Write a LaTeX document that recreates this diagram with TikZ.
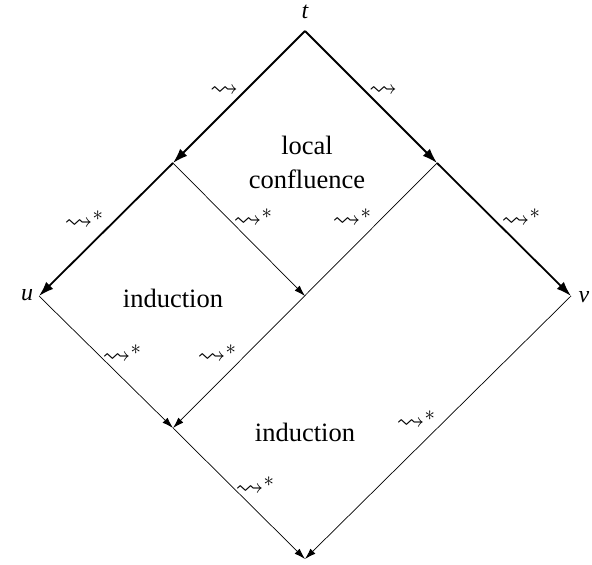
\documentclass[tikz,border=0pt]{standalone}
\usepackage{amssymb}
\usepackage{fontspec}
\setmainfont{Liberation Serif}
\usetikzlibrary{arrows.meta}
\begin{document}
\begin{tikzpicture}[x=1pt,y=-1pt,
  thickedge/.style={line width=1.8pt,-{Latex[length=15pt,width=10pt]}},
  thinedge/.style={line width=0.7pt,-{Latex[length=11pt,width=7pt]}},
  lbl/.style={font=\fontsize{28}{30}\selectfont,inner sep=0pt},
  vlbl/.style={font=\fontsize{24}{26}\selectfont\itshape,inner sep=0pt},
  region/.style={font=\fontsize{26.5}{34}\selectfont,align=center,inner sep=0pt}]
\useasboundingbox (0,0) rectangle (592,565);
\coordinate (T) at (305,31);
\coordinate (A) at (173,163);
\coordinate (B) at (437,163);
\coordinate (U) at (39,296);
\coordinate (V) at (571,296);
\coordinate (M) at (305,296);
\coordinate (C) at (173,428);
\coordinate (D) at (305,559);
\draw[thickedge] (T) -- (A);
\draw[thickedge] (T) -- (B);
\draw[thickedge] (A) -- (U);
\draw[thickedge] (B) -- (V);
\draw[thinedge] (A) -- (M);
\draw[thinedge] (B) -- (C);
\draw[thinedge] (U) -- (C);
\draw[thinedge] (C) -- (D);
\draw[thinedge] (V) -- (D);
\node[vlbl] (tl) at (305,12) {t};
\node[vlbl] (ul) at (27,295) {u};
\node[vlbl] (vl) at (584,297) {v};
\node[lbl] (l1) at (224,91) {$\leadsto$};
\node[lbl] (l2) at (383,91) {$\leadsto$};
\node[lbl] (l3) at (84,220) {$\leadsto^*$};
\node[lbl] (l4) at (253,218) {$\leadsto^*$};
\node[lbl] (l5) at (352,218) {$\leadsto^*$};
\node[lbl] (l6) at (521,218) {$\leadsto^*$};
\node[lbl] (l7) at (122,354) {$\leadsto^*$};
\node[lbl] (l8) at (217,354) {$\leadsto^*$};
\node[lbl] (l9) at (255,486) {$\leadsto^*$};
\node[lbl] (l10) at (416,420) {$\leadsto^*$};
\node[region] (lc) at (307,162) {local\\confluence};
\node[region] (i1) at (173,298) {induction};
\node[region] (i2) at (305,432) {induction};
\end{tikzpicture}
\end{document}
